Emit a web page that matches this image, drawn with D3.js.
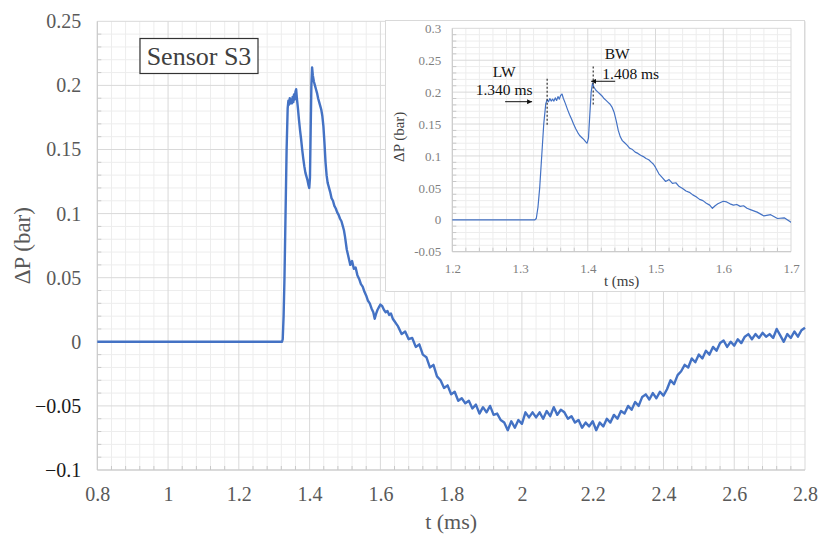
<!DOCTYPE html>
<html>
<head>
<meta charset="utf-8">
<script src="https://cdn.jsdelivr.net/npm/d3@7"></script>
<style>
  body { margin: 0; background: #fff; }
  svg { display: block; font-family: "Liberation Serif", "Times New Roman", serif; }
</style>
</head>
<body>
<svg id="chart" width="822" height="535"></svg>
<script>
// pressure trace of sensor S3, [t (ms), dP (bar)]
var riseAndPeaks = [
  [0.8, 0], [1.322, 0], [1.324, 0.002], [1.3265, 0.02], [1.329, 0.05], [1.332, 0.10],
  [1.335, 0.15], [1.338, 0.182], [1.340, 0.188], [1.342, 0.185], [1.344, 0.190],
  [1.346, 0.186], [1.348, 0.189], [1.350, 0.186], [1.352, 0.191], [1.354, 0.187],
  [1.356, 0.193], [1.358, 0.189], [1.360, 0.195], [1.362, 0.197], [1.364, 0.190],
  [1.367, 0.182], [1.370, 0.173], [1.373, 0.165], [1.376, 0.158], [1.379, 0.150],
  [1.382, 0.143], [1.385, 0.137], [1.388, 0.132], [1.391, 0.129], [1.394, 0.126],
  [1.397, 0.122], [1.399, 0.120], [1.401, 0.128], [1.403, 0.165], [1.405, 0.200],
  [1.407, 0.214], [1.409, 0.208], [1.412, 0.203], [1.415, 0.200], [1.418, 0.197],
  [1.421, 0.194], [1.424, 0.190], [1.427, 0.187], [1.430, 0.184], [1.433, 0.181],
  [1.436, 0.176], [1.439, 0.168], [1.442, 0.155], [1.445, 0.140], [1.448, 0.130],
  [1.451, 0.124], [1.454, 0.121], [1.458, 0.117], [1.462, 0.112], [1.466, 0.110],
  [1.470, 0.106], [1.474, 0.104], [1.478, 0.101], [1.482, 0.099], [1.486, 0.096],
  [1.490, 0.094], [1.494, 0.090], [1.497, 0.087]
];

var decay = [
  [1.500, 0.082], [1.505, 0.072], [1.510, 0.066], [1.515, 0.060], [1.520, 0.063],
  [1.525, 0.057], [1.530, 0.058], [1.535, 0.052], [1.540, 0.049], [1.545, 0.045],
  [1.550, 0.043], [1.555, 0.039], [1.560, 0.036], [1.565, 0.032], [1.570, 0.030],
  [1.575, 0.026], [1.580, 0.023], [1.584, 0.018], [1.588, 0.022], [1.592, 0.025],
  [1.596, 0.027], [1.600, 0.029], [1.605, 0.028], [1.610, 0.025], [1.615, 0.023],
  [1.620, 0.024], [1.625, 0.021], [1.630, 0.022], [1.635, 0.018], [1.640, 0.016],
  [1.645, 0.014]
];

var underpressure = [
  [1.65, 0.012], [1.66, 0.006], [1.67, 0.008], [1.68, 0.002], [1.69, 0.003],
  [1.70, -0.004], [1.71, -0.002], [1.72, -0.010], [1.73, -0.012], [1.74, -0.020],
  [1.75, -0.018], [1.76, -0.027], [1.77, -0.030], [1.78, -0.036], [1.79, -0.034],
  [1.80, -0.041], [1.81, -0.039], [1.82, -0.046], [1.83, -0.044], [1.84, -0.048],
  [1.85, -0.046], [1.86, -0.052], [1.87, -0.049], [1.88, -0.056], [1.89, -0.051],
  [1.90, -0.055], [1.91, -0.050], [1.92, -0.057], [1.93, -0.056], [1.94, -0.061],
  [1.95, -0.063], [1.96, -0.069], [1.97, -0.062], [1.98, -0.067], [1.99, -0.061],
  [2.00, -0.064], [2.01, -0.055], [2.02, -0.059], [2.03, -0.055], [2.04, -0.059],
  [2.05, -0.055], [2.06, -0.060], [2.07, -0.054], [2.08, -0.058], [2.09, -0.051],
  [2.10, -0.057], [2.11, -0.053], [2.12, -0.055], [2.13, -0.060], [2.14, -0.058],
  [2.15, -0.063], [2.16, -0.061], [2.17, -0.067], [2.18, -0.063], [2.19, -0.066],
  [2.20, -0.062], [2.21, -0.069], [2.22, -0.063], [2.23, -0.066], [2.24, -0.060],
  [2.25, -0.063], [2.26, -0.057], [2.27, -0.060], [2.28, -0.054], [2.29, -0.056],
  [2.30, -0.050], [2.31, -0.053], [2.32, -0.047], [2.33, -0.050], [2.34, -0.043],
  [2.35, -0.041], [2.36, -0.045], [2.37, -0.040], [2.38, -0.044], [2.39, -0.039],
  [2.40, -0.042], [2.41, -0.037], [2.42, -0.030], [2.43, -0.033], [2.44, -0.026],
  [2.45, -0.023], [2.46, -0.018], [2.47, -0.020], [2.48, -0.013], [2.49, -0.016],
  [2.50, -0.010], [2.51, -0.013], [2.52, -0.007], [2.53, -0.010], [2.54, -0.004],
  [2.55, -0.007], [2.56, -0.001], [2.57, 0.001], [2.58, -0.004], [2.59, 0.000],
  [2.60, -0.003], [2.61, 0.002], [2.62, -0.001], [2.63, 0.004], [2.64, 0.006],
  [2.65, 0.002], [2.66, 0.006], [2.67, 0.003], [2.68, 0.007], [2.69, 0.004],
  [2.70, 0.006], [2.71, 0.003], [2.72, 0.010], [2.73, 0.005], [2.74, 0.000],
  [2.75, 0.006], [2.76, 0.003], [2.77, 0.008], [2.78, 0.004], [2.79, 0.009],
  [2.80, 0.011]
];

var mainXTicks = [0.8, 1, 1.2, 1.4, 1.6, 1.8, 2, 2.2, 2.4, 2.6, 2.8];
var mainYTicks = [-0.1, -0.05, 0, 0.05, 0.1, 0.15, 0.2, 0.25];
var mainYLabels = ['\u22120.1', '\u22120.05', '0', '0.05', '0.1', '0.15', '0.2', '0.25'];
var insetXTicks = [1.2, 1.3, 1.4, 1.5, 1.6, 1.7];
var insetYTicks = [-0.05, 0, 0.05, 0.1, 0.15, 0.2, 0.25, 0.3];
var insetYLabels = ['-0.05', '0', '0.05', '0.1', '0.15', '0.2', '0.25', '0.3'];

// wave arrival markers in the inset
var waveNames = ['LW', 'BW'];
var waveTimes = [1.340, 1.408];

var trace = riseAndPeaks.concat(decay, underpressure);

var LINE_BLUE = '#4472c4';
var svg = d3.select('#chart');

/* =============== helpers =============== */

function subdivide(ticks, n) {
  var out = [];
  for (var i = 0; i < ticks.length - 1; i++) {
    var step = (ticks[i + 1] - ticks[i]) / n;
    for (var k = 1; k < n; k++) out.push(ticks[i] + k * step);
  }
  return out;
}

function drawGrid(g, x, y, xTicks, yTicks) {
  var x0 = x.range()[0], x1 = x.range()[1];
  var y0 = y.range()[0], y1 = y.range()[1];

  g.append('g').selectAll('line')
    .data(subdivide(xTicks, 5)).join('line')
    .attr('x1', x).attr('x2', x).attr('y1', y0).attr('y2', y1)
    .attr('stroke', '#ededed');
  g.append('g').selectAll('line')
    .data(subdivide(yTicks, 5)).join('line')
    .attr('y1', y).attr('y2', y).attr('x1', x0).attr('x2', x1)
    .attr('stroke', '#ededed');

  g.append('g').selectAll('line')
    .data(xTicks).join('line')
    .attr('x1', x).attr('x2', x).attr('y1', y0).attr('y2', y1)
    .attr('stroke', '#d9d9d9');
  g.append('g').selectAll('line')
    .data(yTicks).join('line')
    .attr('y1', y).attr('y2', y).attr('x1', x0).attr('x2', x1)
    .attr('stroke', '#d9d9d9');

  // small inside ticks along the two axes
  g.append('g').selectAll('line')
    .data(subdivide(xTicks, 5)).join('line')
    .attr('x1', x).attr('x2', x).attr('y1', y0).attr('y2', y0 - 4)
    .attr('stroke', '#c8c8c8');
  g.append('g').selectAll('line')
    .data(subdivide(yTicks, 5)).join('line')
    .attr('y1', y).attr('y2', y).attr('x1', x0).attr('x2', x0 + 4)
    .attr('stroke', '#c8c8c8');

  g.append('line')
    .attr('x1', x0).attr('x2', x0).attr('y1', y0).attr('y2', y1)
    .attr('stroke', '#c8c8c8');
  g.append('line')
    .attr('x1', x0).attr('x2', x1).attr('y1', y0).attr('y2', y0)
    .attr('stroke', '#c8c8c8');
}

// strip d3's default axis styling so the serif font applies
function plainAxis(g) {
  g.attr('font-family', null).attr('font-size', null);
  g.select('.domain').remove();
}

/* =============== MAIN PLOT =============== */

var x = d3.scaleLinear().domain([0.8, 2.8]).range([97.3, 805]);
var y = d3.scaleLinear().domain([-0.1, 0.25]).range([470, 21.3]);

var main = svg.append('g');
drawGrid(main, x, y, mainXTicks, mainYTicks);

main.append('g')
  .attr('transform', 'translate(0,' + y.range()[0] + ')')
  .call(d3.axisBottom(x).tickValues(mainXTicks).tickSize(0).tickPadding(17)
    .tickFormat(function (d) { return String(d); }))
  .call(plainAxis)
  .selectAll('text')
  .attr('font-size', 20)
  .attr('fill', '#595959');

main.append('g')
  .attr('transform', 'translate(' + (x.range()[0] - 16) + ',0)')
  .call(d3.axisLeft(y).tickValues(mainYTicks).tickSize(0).tickPadding(0)
    .tickFormat(function (d, i) { return mainYLabels[i]; }))
  .call(plainAxis)
  .selectAll('text')
  .attr('font-size', 20)
  .attr('fill', function (d) { return d < 0 ? '#1a1a1a' : '#595959'; });

main.append('path')
  .datum(trace)
  .attr('fill', 'none')
  .attr('stroke', LINE_BLUE)
  .attr('stroke-width', 2.4)
  .attr('stroke-linejoin', 'round')
  .attr('d', d3.line().x(function (d) { return x(d[0]); }).y(function (d) { return y(d[1]); }));

main.append('text')
  .attr('transform', 'translate(30,' + (y(0.075)) + ') rotate(-90)')
  .attr('text-anchor', 'middle')
  .attr('font-size', 23)
  .attr('fill', '#595959')
  .text('\u0394P (bar)');

main.append('text')
  .attr('x', (x.range()[0] + x.range()[1]) / 2)
  .attr('y', 529)
  .attr('text-anchor', 'middle')
  .attr('font-size', 22)
  .attr('fill', '#595959')
  .text('t (ms)');

var label = main.append('g');
label.append('rect')
  .attr('x', 140).attr('y', 38.5).attr('width', 118).attr('height', 35)
  .attr('fill', '#fff').attr('stroke', '#333').attr('stroke-width', 1.2);
label.append('text')
  .attr('x', 199).attr('y', 65)
  .attr('text-anchor', 'middle')
  .attr('font-size', 26)
  .attr('fill', '#404040')
  .text('Sensor S3');

/* =============== INSET =============== */

var ix = d3.scaleLinear().domain([1.2, 1.7]).range([452.3, 791]);
var iy = d3.scaleLinear().domain([-0.05, 0.3]).range([251.7, 28.3]);

var inset = svg.append('g');
inset.append('rect')
  .attr('x', 385.5).attr('y', 20.5).attr('width', 419).attr('height', 271)
  .attr('fill', '#fff').attr('stroke', '#d9d9d9');

drawGrid(inset, ix, iy, insetXTicks, insetYTicks);

inset.append('g')
  .attr('transform', 'translate(0,' + iy.range()[0] + ')')
  .call(d3.axisBottom(ix).tickValues(insetXTicks).tickSize(0).tickPadding(12)
    .tickFormat(function (d) { return String(d); }))
  .call(plainAxis)
  .selectAll('text')
  .attr('font-size', 13)
  .attr('fill', '#7f7f7f');

inset.append('g')
  .attr('transform', 'translate(' + (ix.range()[0] - 11) + ',0)')
  .call(d3.axisLeft(iy).tickValues(insetYTicks).tickSize(0).tickPadding(0)
    .tickFormat(function (d, i) { return insetYLabels[i]; }))
  .call(plainAxis)
  .selectAll('text')
  .attr('font-size', 13)
  .attr('fill', '#7f7f7f');

svg.append('clipPath').attr('id', 'inset-clip')
  .append('rect')
  .attr('x', ix.range()[0]).attr('y', iy.range()[1])
  .attr('width', ix.range()[1] - ix.range()[0])
  .attr('height', iy.range()[0] - iy.range()[1]);

inset.append('path')
  .datum(trace)
  .attr('clip-path', 'url(#inset-clip)')
  .attr('fill', 'none')
  .attr('stroke', LINE_BLUE)
  .attr('stroke-width', 1.2)
  .attr('stroke-linejoin', 'round')
  .attr('d', d3.line().x(function (d) { return ix(d[0]); }).y(function (d) { return iy(d[1]); }));

inset.append('text')
  .attr('transform', 'translate(404,' + iy(0.13) + ') rotate(-90)')
  .attr('text-anchor', 'middle')
  .attr('font-size', 15)
  .attr('fill', '#404040')
  .text('\u0394P (bar)');

inset.append('text')
  .attr('x', (ix.range()[0] + ix.range()[1]) / 2)
  .attr('y', 286)
  .attr('text-anchor', 'middle')
  .attr('font-size', 15)
  .attr('fill', '#404040')
  .text('t (ms)');

// arrow heads for the wave markers
svg.append('defs').append('marker')
  .attr('id', 'head')
  .attr('viewBox', '0 0 10 10')
  .attr('refX', 10).attr('refY', 5)
  .attr('markerWidth', 5).attr('markerHeight', 5)
  .attr('orient', 'auto-start-reverse')
  .append('path')
  .attr('d', 'M0,0 L10,5 L0,10 z')
  .attr('fill', '#111');

var marks = inset.append('g');
waveTimes.forEach(function (t, i) {
  var px = ix(t);
  var isLW = i === 0;
  var top = isLW ? iy(0.221) : iy(0.240);
  var bottom = isLW ? iy(0.149) : iy(0.180);
  var arrowY = isLW ? iy(0.185) : iy(0.217);

  marks.append('line')
    .attr('x1', px).attr('x2', px).attr('y1', top).attr('y2', bottom)
    .attr('stroke', '#222').attr('stroke-width', 1.1)
    .attr('stroke-dasharray', '2,2');

  marks.append('line')
    .attr('x1', isLW ? px - 42 : px + 22)
    .attr('x2', isLW ? px - 15 : px - 2)
    .attr('y1', arrowY).attr('y2', arrowY)
    .attr('stroke', '#111').attr('stroke-width', 1)
    .attr('marker-end', 'url(#head)');

  marks.append('text')
    .attr('x', isLW ? px - 43 : px + 24)
    .attr('y', isLW ? 77 : 58.5)
    .attr('text-anchor', 'middle')
    .attr('font-size', 15.5)
    .attr('fill', '#111')
    .text(waveNames[i]);

  marks.append('text')
    .attr('x', isLW ? px - 43 : px + 37.5)
    .attr('y', isLW ? 95 : 78.5)
    .attr('text-anchor', 'middle')
    .attr('font-size', 15.5)
    .attr('fill', '#111')
    .text(t.toFixed(3) + ' ms');
});
</script>
</body>
</html>
